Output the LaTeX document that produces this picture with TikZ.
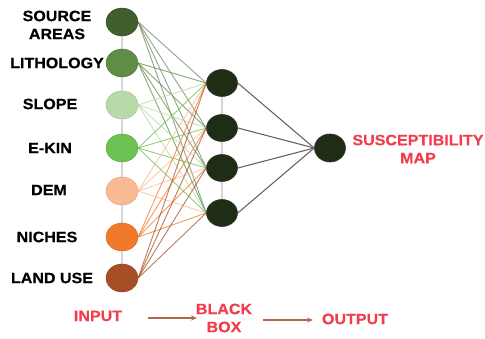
\documentclass[tikz,border=0pt]{standalone}
\usepackage{fontspec}
\setmainfont{Liberation Sans}[FakeStretch=1.07,BoldFeatures={FakeBold=0.4}]
\usetikzlibrary{shapes.geometric,backgrounds,arrows.meta}
\definecolor{cSrc}{HTML}{3F5F2C}
\definecolor{cLit}{HTML}{5E8E45}
\definecolor{cSlo}{HTML}{B8DAA8}
\definecolor{cEki}{HTML}{6CC152}
\definecolor{cDem}{HTML}{F9BA94}
\definecolor{cNic}{HTML}{F07A2A}
\definecolor{cLan}{HTML}{A64F26}
\definecolor{cHid}{HTML}{1F2D15}
\definecolor{cRed}{HTML}{F03E4C}
\definecolor{cArr}{HTML}{B0684A}
\definecolor{cCol}{HTML}{D6D6D6}
\tikzset{
  neuron/.style={ellipse,minimum width=32pt,minimum height=28pt,inner sep=0pt},
  innode/.style={neuron,fill=#1,draw=#1!85!black,line width=0.4pt},
  hidnode/.style={neuron,minimum width=31pt,minimum height=27pt,fill=cHid,draw=black!80,line width=0.6pt},
  lbl/.style={font=\bfseries\fontsize{15}{18}\selectfont,align=center,inner sep=0pt,text=black},
  redlbl/.style={font=\bfseries\fontsize{15}{18}\selectfont,align=center,inner sep=0pt,text=cRed},
  wire/.style={line width=0.9pt,draw=#1,opacity=0.75},
  owire/.style={line width=1.1pt,draw=black!60},
  colline/.style={line width=1.6pt,draw=cCol},
  flow/.style={line width=1.1pt,draw=cArr,-{Stealth[length=6pt,width=5pt]}}
}
\begin{document}
\begin{tikzpicture}[x=1pt,y=-1pt]
\useasboundingbox (0,0) rectangle (485,339);
% input nodes
\node[innode=cSrc] (i1) at (122,22) {};
\node[innode=cLit] (i2) at (122,63) {};
\node[innode=cSlo] (i3) at (122,105) {};
\node[innode=cEki] (i4) at (122,148) {};
\node[innode=cDem] (i5) at (122,191) {};
\node[innode=cNic] (i6) at (122,237) {};
\node[innode=cLan] (i7) at (122,278) {};
% hidden nodes
\node[hidnode] (h1) at (222,83) {};
\node[hidnode] (h2) at (222,128) {};
\node[hidnode] (h3) at (222,168) {};
\node[hidnode] (h4) at (222,213) {};
% output node
\node[hidnode,minimum width=31pt,minimum height=28pt] (o) at (330,148) {};
% labels
\node[lbl] (l1) at (57,25) {SOURCE\\AREAS};
\node[lbl] (l2) at (57,63) {LITHOLOGY};
\node[lbl] (l3) at (50,104) {SLOPE};
\node[lbl] (l4) at (50,148) {E-KIN};
\node[lbl] (l5) at (49,190) {DEM};
\node[lbl] (l6) at (47,237) {NICHES};
\node[lbl] (l7) at (52,278) {LAND USE};
\node[redlbl] (sm) at (418,149) {SUSCEPTIBILITY\\MAP};
\node[redlbl] (inp) at (98,316) {INPUT};
\node[redlbl] (bb) at (224,318) {BLACK\\BOX};
\node[redlbl] (out) at (355,319) {OUTPUT};
\coordinate (a1s) at (148,318);
\coordinate (a1e) at (197,318);
\coordinate (a2s) at (263,320);
\coordinate (a2e) at (313,320);
\draw[flow] (a1s) -- (a1e);
\draw[flow] (a2s) -- (a2e);
\begin{scope}[on background layer]
  \foreach \a/\b in {i1/i2,i2/i3,i3/i4,i4/i5,i5/i6,i6/i7,h1/h2,h2/h3,h3/h4}
    \draw[colline] (\a) -- (\b);
  \foreach \i/\c in {1/cSrc!75!white,2/cLit,3/cSlo,4/cEki,5/cDem,6/cNic,7/cLan}
    \foreach \h in {1,2,3,4}
      \draw[wire=\c] (i\i.east) -- (h\h.west);
  \foreach \h in {1,2,3,4}
    \draw[owire] (h\h.east) -- (o.west);
\end{scope}
\end{tikzpicture}
\end{document}
